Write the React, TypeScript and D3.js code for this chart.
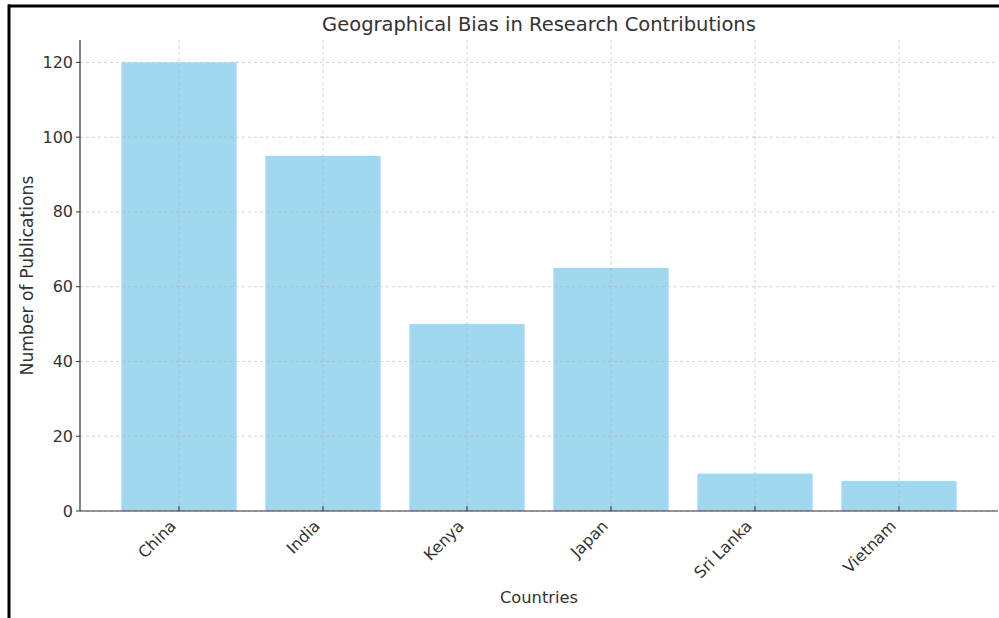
import React from "react";
import * as d3 from "d3";

const categories = ["China", "India", "Kenya", "Japan", "Sri Lanka", "Vietnam"];
const values = [120, 95, 50, 65, 10, 8];
const yTicks = [0, 20, 40, 60, 80, 100, 120];
const title = "Geographical Bias in Research Contributions";
const xLabel = "Countries";
const yLabel = "Number of Publications";

const W = 999;
const H = 618;
const left = 80;
const right = 998;
const top = 40;
const bottom = 511;
const font = "DejaVu Sans, sans-serif";
const textColor = "#333333";

export default function App() {
  const x = d3
    .scaleBand<string>()
    .domain(categories)
    .range([left, right])
    .paddingInner(0.2)
    .paddingOuter(0.2875);
  const y = d3.scaleLinear().domain([0, 126]).range([bottom, top]);

  return (
    <svg
      width={W}
      height={H}
      style={{ position: "absolute", left: 0, top: 0, background: "#fff" }}
    >
      <rect x={0} y={0} width={W} height={H} fill="#fff" />
      {/* frame */}
      <line x1={8} y1={6} x2={W} y2={6} stroke="#000" strokeWidth={3} />
      <line x1={9} y1={4.5} x2={9} y2={H} stroke="#000" strokeWidth={3} />

      {/* bars */}
      {categories.map((c, i) => (
        <rect
          key={c}
          x={x(c)!}
          y={y(values[i])}
          width={x.bandwidth()}
          height={y(0) - y(values[i])}
          fill="#87CEEB"
          fillOpacity={0.8}
        />
      ))}

      {/* grid */}
      {yTicks.map((t) => (
        <line
          key={"gy" + t}
          x1={left}
          x2={right}
          y1={y(t)}
          y2={y(t)}
          stroke="#b0b0b0"
          strokeOpacity={0.7}
          strokeWidth={0.8}
          strokeDasharray="3,3"
        />
      ))}
      {categories.map((c) => {
        const cx = x(c)! + x.bandwidth() / 2;
        return (
          <line
            key={"gx" + c}
            x1={cx}
            x2={cx}
            y1={top}
            y2={bottom}
            stroke="#b0b0b0"
            strokeOpacity={0.7}
            strokeWidth={0.8}
            strokeDasharray="3,3"
          />
        );
      })}

      {/* spines */}
      <line x1={left} x2={left} y1={top} y2={bottom} stroke="#333" strokeWidth={1.2} />
      <line x1={left} x2={right} y1={bottom} y2={bottom} stroke="#333" strokeWidth={1.2} />

      {/* y ticks */}
      {yTicks.map((t) => (
        <g key={"yt" + t}>
          <line x1={left - 4} x2={left} y1={y(t)} y2={y(t)} stroke="#333" strokeWidth={1} />
          <text
            x={left - 7}
            y={y(t)}
            textAnchor="end"
            dominantBaseline="central"
            fontFamily={font}
            fontSize={16}
            fill={textColor}
          >
            {t}
          </text>
        </g>
      ))}

      {/* x ticks */}
      {categories.map((c) => {
        const cx = x(c)! + x.bandwidth() / 2;
        const px = cx - 2;
        const py = bottom + 16;
        return (
          <g key={"xt" + c}>
            <line x1={cx} x2={cx} y1={bottom} y2={bottom - 5} stroke="#333" strokeWidth={1} />
            <text
              x={px}
              y={py}
              textAnchor="end"
              transform={`rotate(-45, ${px}, ${py})`}
              fontFamily={font}
              fontSize={16}
              fill={textColor}
            >
              {c}
            </text>
          </g>
        );
      })}

      {/* labels */}
      <text
        x={(left + right) / 2}
        y={31}
        textAnchor="middle"
        fontFamily={font}
        fontSize={19.5}
        fill={textColor}
      >
        {title}
      </text>
      <text
        x={(left + right) / 2}
        y={603}
        textAnchor="middle"
        fontFamily={font}
        fontSize={16.3}
        fill={textColor}
      >
        {xLabel}
      </text>
      <text
        x={33}
        y={(top + bottom) / 2}
        textAnchor="middle"
        transform={`rotate(-90, 33, ${(top + bottom) / 2})`}
        fontFamily={font}
        fontSize={17.2}
        fill={textColor}
      >
        {yLabel}
      </text>
    </svg>
  );
}
